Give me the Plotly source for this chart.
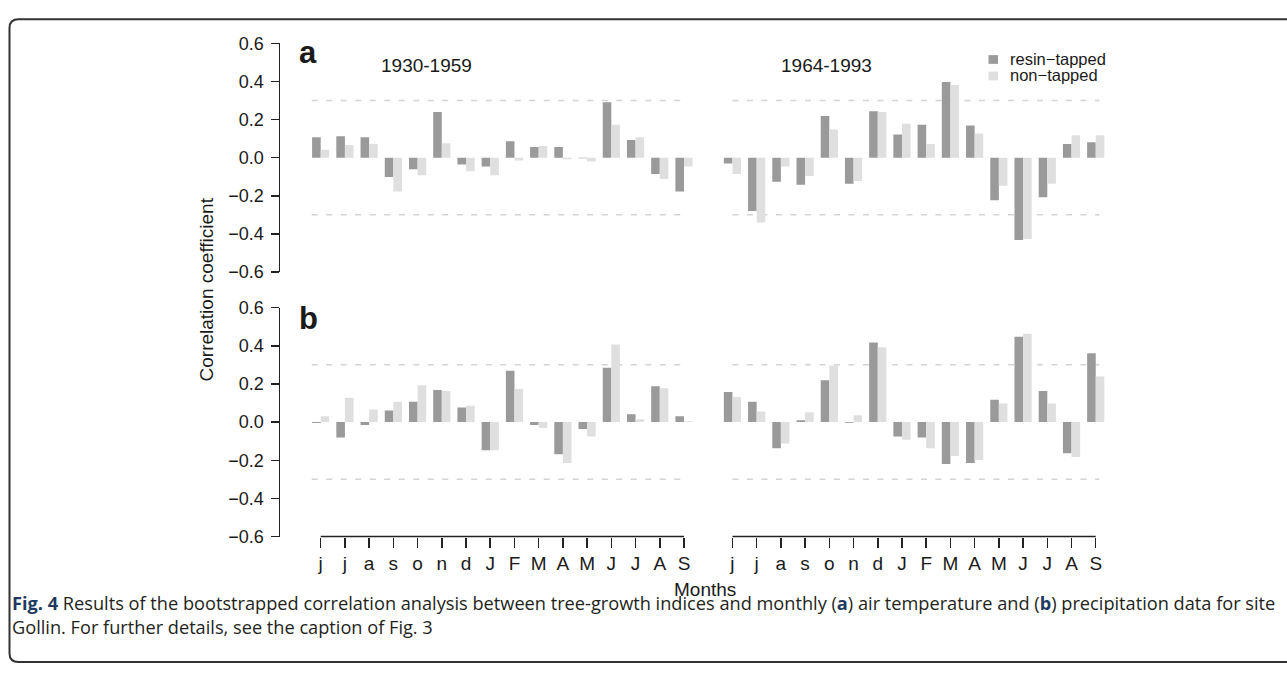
import plotly.graph_objects as go

# ---------------- data ----------------
months = ["j", "j", "a", "s", "o", "n", "d", "J", "F", "M", "A", "M", "J", "J", "A", "S"]
periods = ["1930-1959", "1964-1993"]
series_names = ["resin\u2212tapped", "non\u2212tapped"]

# panel a: air temperature
temp_1930_resin = [0.107, 0.112, 0.107, -0.102, -0.061, 0.239, -0.036, -0.046, 0.086, 0.056, 0.056, -0.003, 0.290, 0.092, -0.086, -0.178]
temp_1930_non = [0.041, 0.066, 0.071, -0.178, -0.092, 0.076, -0.071, -0.092, -0.015, 0.061, -0.008, -0.020, 0.173, 0.107, -0.112, -0.046]
temp_1964_resin = [-0.031, -0.280, -0.127, -0.142, 0.219, -0.137, 0.244, 0.122, 0.173, 0.397, 0.168, -0.224, -0.432, -0.208, 0.071, 0.081]
temp_1964_non = [-0.086, -0.341, -0.046, -0.097, 0.147, -0.122, 0.239, 0.178, 0.071, 0.381, 0.127, -0.147, -0.427, -0.137, 0.117, 0.117]

# panel b: precipitation
prec_1930_resin = [-0.005, -0.081, -0.015, 0.061, 0.107, 0.168, 0.076, -0.147, 0.269, -0.015, -0.168, -0.036, 0.285, 0.041, 0.188, 0.031]
prec_1930_non = [0.031, 0.127, 0.066, 0.107, 0.193, 0.163, 0.086, -0.147, 0.173, -0.031, -0.214, -0.076, 0.407, 0.015, 0.178, 0.005]
prec_1964_resin = [0.158, 0.107, -0.137, 0.010, 0.219, -0.004, 0.417, -0.076, -0.081, -0.219, -0.214, 0.117, 0.447, 0.163, -0.163, 0.361]
prec_1964_non = [0.132, 0.056, -0.112, 0.051, 0.297, 0.036, 0.392, -0.092, -0.137, -0.178, -0.198, 0.097, 0.463, 0.097, -0.183, 0.239]

y_ticks = [-0.6, -0.4, -0.2, 0.0, 0.2, 0.4, 0.6]
y_ticktext = ["\u22120.6", "\u22120.4", "\u22120.2", "0.0", "0.2", "0.4", "0.6"]
sig_level = 0.3

# ---------------- layout helpers ----------------
W, H = 1287, 674
def px(x):
    return x / W
def py(y):
    return 1 - y / H

DARK = "#9a9a9a"
LIGHT = "#dfdfdf"
AXC = "#222222"
FONT = "Liberation Sans, Arial, sans-serif"

n = len(months)
gap = 2
x_g1 = list(range(n))
x_g2 = [i + n - 1 + gap for i in range(n)]
x_all = x_g1 + x_g2
BW = 0.355

fig = go.Figure()

def add_panel(resin1, non1, resin2, non2, xa, ya):
    fig.add_trace(go.Bar(x=x_all, y=resin1 + resin2, width=BW, offset=-BW,
                         marker=dict(color=DARK, line=dict(width=0)),
                         name=series_names[0], showlegend=False, xaxis=xa, yaxis=ya))
    fig.add_trace(go.Bar(x=x_all, y=non1 + non2, width=BW, offset=0,
                         marker=dict(color=LIGHT, line=dict(width=0)),
                         name=series_names[1], showlegend=False, xaxis=xa, yaxis=ya))

add_panel(temp_1930_resin, temp_1930_non, temp_1964_resin, temp_1964_non, "x", "y")
add_panel(prec_1930_resin, prec_1930_non, prec_1964_resin, prec_1964_non, "x2", "y2")

# x geometry: index 0 at 320.7 px, 24.22 px per unit
x0px, unit = 320.7, 24.22
left_px, right_px = 280, 1200
xr = [(left_px - x0px) / unit, (right_px - x0px) / unit]
dom_x = [px(left_px), px(right_px)]

shapes = []
# dashed significance lines
for xr_, yr_ in (("x", "y"), ("x2", "y2")):
    for lev in (sig_level, -sig_level):
        for a, b in ((x_g1[0] - 0.37, x_g1[-1] - 0.1), (x_g2[0], x_g2[-1] + 0.15)):
            shapes.append(dict(type="line", xref=xr_, yref=yr_, x0=a, x1=b, y0=lev, y1=lev,
                               line=dict(color="#d4d4d4", width=1.5, dash="6px,8.5px"), layer="below"))

# bottom bracket axis lines (R style) for each month group
yb = py(542.7)
for grp in (x_g1, x_g2):
    shapes.append(dict(type="line", xref="x2", yref="paper", x0=grp[0], x1=grp[-1], y0=yb, y1=yb,
                       line=dict(color=AXC, width=1.5)))

# frame with rounded corners
fx0, fy0, fy1, fr = 9.5, 9.5, 672.0, 9
path = (f"M {px(1300)},{py(fy0)} L {px(fx0 + fr)},{py(fy0)} "
        f"Q {px(fx0)},{py(fy0)} {px(fx0)},{py(fy0 + fr)} "
        f"L {px(fx0)},{py(fy1 - fr)} Q {px(fx0)},{py(fy1)} {px(fx0 + fr)},{py(fy1)} "
        f"L {px(1300)},{py(fy1)}")
shapes.append(dict(type="path", xref="paper", yref="paper", path=path,
                   line=dict(color="#333333", width=2)))

# legend squares
for i, col in enumerate((DARK, LIGHT)):
    cy = 51 + 17 * i
    shapes.append(dict(type="rect", xref="paper", yref="paper",
                       x0=px(988.5), x1=px(998), y0=py(cy - 4.5), y1=py(cy + 4.5),
                       fillcolor=col, line=dict(width=0)))

annotations = []
def ann(text, x, y, size, xanchor="center", yanchor="middle", color="#1a1a1a", family=FONT, angle=0, align="center"):
    annotations.append(dict(text=text, x=px(x), y=py(y), xref="paper", yref="paper",
                            showarrow=False, xanchor=xanchor, yanchor=yanchor, textangle=angle,
                            align=align, borderpad=0, font=dict(size=size, color=color, family=family)))

ann("<b>a</b>", 298, 44, 31, xanchor="left")
ann("<b>b</b>", 298, 318, 31, xanchor="left")
ann(periods[0], 426.3, 57, 19)
ann(periods[1], 826.7, 57, 19)
ann(series_names[0], 1009, 50.5, 16.5, xanchor="left")
ann(series_names[1], 1009, 67.5, 16.5, xanchor="left")
ann("Correlation coefficient", 206, 288, 19, angle=-90)
ann("Months", 704.7, 597, 19)

CAP_FONT = "Open Sans, sans-serif"
blue = "#1f3a60"
caption = (f"<b><span style='color:{blue}'>Fig. 4</span></b> Results of the bootstrapped correlation analysis "
           f"between tree-growth indices and monthly (<b><span style='color:{blue}'>a</span></b>) air temperature "
           f"and (<b><span style='color:{blue}'>b</span></b>) precipitation data for site<br>"
           "Gollin. For further details, see the caption of Fig. 3")
ann(caption, 11, 624, 18.2, xanchor="left", color="#231f20", family=CAP_FONT, align="left")

yaxis_common = dict(range=[-0.6, 0.6], tickvals=y_ticks, ticktext=y_ticktext,
                    showline=True, linecolor=AXC, linewidth=1.5, ticks="outside", ticklen=8,
                    tickwidth=1.5, tickcolor=AXC, showgrid=False, zeroline=False,
                    ticklabelstandoff=3,
                    tickfont=dict(size=18, color="#1a1a1a", family=FONT))

fig.update_layout(
    width=W, height=H, autosize=False,
    margin=dict(l=0, r=0, t=0, b=0),
    paper_bgcolor="white", plot_bgcolor="white",
    barmode="overlay", showlegend=False,
    xaxis=dict(domain=dom_x, range=xr, visible=False, anchor="y"),
    xaxis2=dict(domain=dom_x, range=xr, anchor="y2", showline=False, showgrid=False, zeroline=False,
                tickvals=x_all, ticktext=months + months, ticks="outside", ticklen=10,
                tickwidth=1.5, tickcolor=AXC, tickfont=dict(size=19, color="#1a1a1a", family=FONT)),
    yaxis=dict(domain=[py(270), py(34.3)], anchor="x", **yaxis_common),
    yaxis2=dict(domain=[py(542.7), py(306.7)], anchor="x2", **yaxis_common),
    shapes=shapes, annotations=annotations,
)

fig.write_html("out.html", config={"displayModeBar": False, "staticPlot": True},
               post_script="document.body.style.margin='0';document.body.style.overflow='hidden';")
